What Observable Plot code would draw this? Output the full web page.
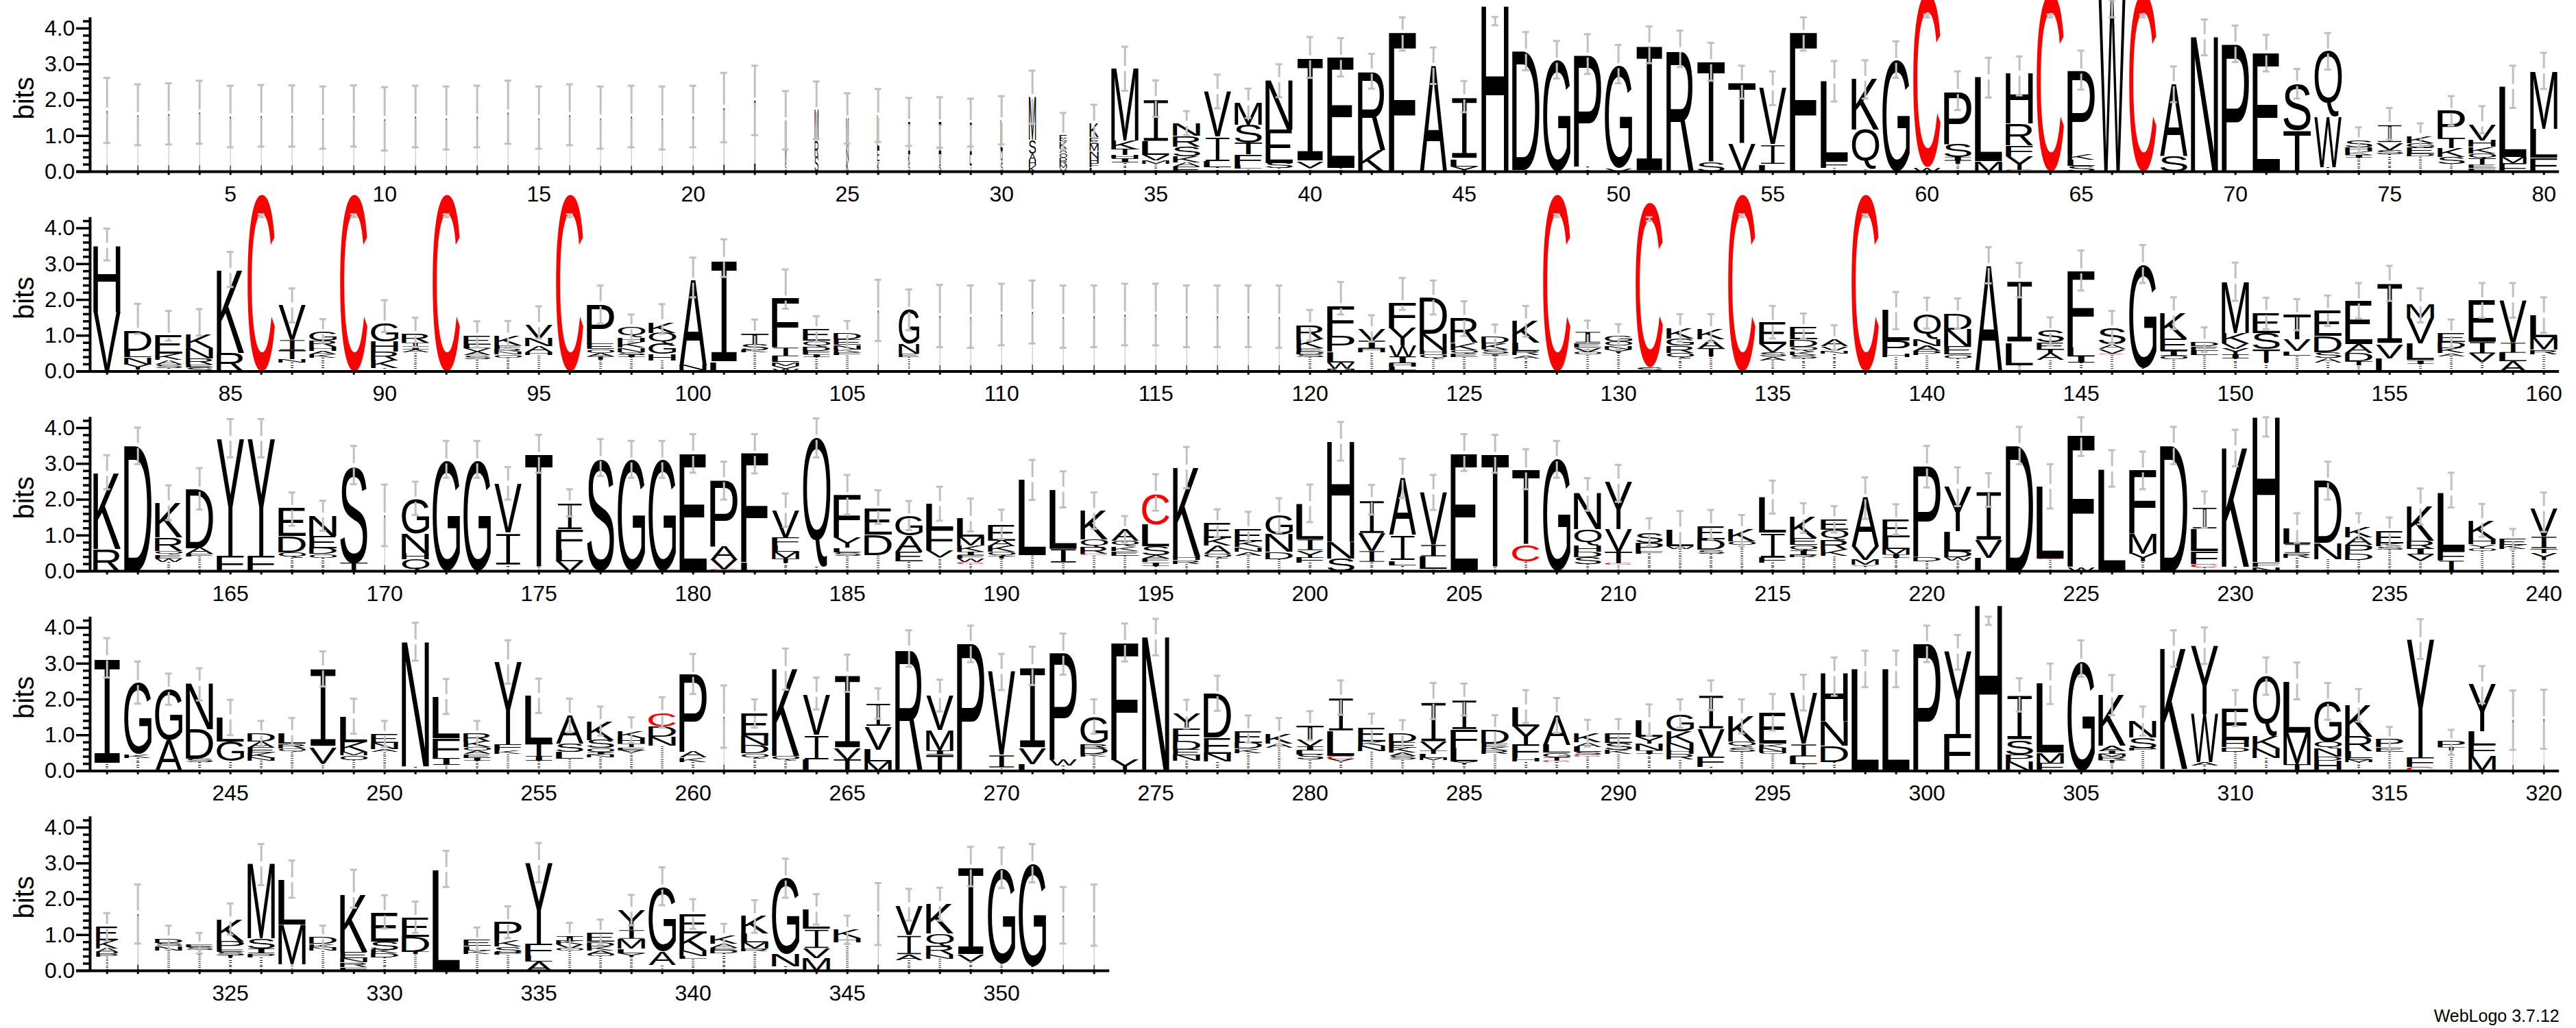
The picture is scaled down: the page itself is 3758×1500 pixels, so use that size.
<!DOCTYPE html>
<html><head><meta charset="utf-8">
<style>html,body{margin:0;padding:0;background:#fff;overflow:hidden}</style>
<script src="https://cdn.jsdelivr.net/npm/d3@7"></script>
<script src="https://cdn.jsdelivr.net/npm/@observablehq/plot@0.6"></script>
</head><body><div id="chart"></div>
<script>
// Each string lists one column's letters from top to bottom, with heights in bits.
// ":" stands for the residues too small to read, which the logo shows as specks.
const stacksRow1=["I1.71","I1.59","I1.62","I1.66","I1.54","I1.56","I1.56","I1.51","I1.56","I1.48","I1.54","I1.5","I1.54","I1.66","I1.51","I1.59","I1.51","I1.54","I1.5","I1.54","I1.79","I1.99","M1.2S.24","M.85R.45S.42","M.85N.32K.32","L.95E.32K.3","I.9K.25S.24","I.9V.28S.2","I.9L.27T.2","L.85Q.35S.24","M1.2S.38A.19H.16K.16","E.16K.2A.12O.13D.1R.1M.1V.1","K.38E.18M.2N.2H.14F.12L.12","M2K.24T.16H.1I.12:.25","I1.2L.38V.14M.1:.22","N.34R.3S.28K.16A.12E.14","V1.27I.68L.16:.12","M.6S.5T.32F.3L.1:.09","N1.38E.94S.14:.1","I2.9V.17:.1","E3.08:.1","R2.2K.6","F3.88","A2.96","I1.73L.2Y.15","H4.62","D3.3:.05","G3.1","P3.1:.15","G2.85V.1","I3.53","R3.4","T2.8S.26","T1.7V.78","V1.58I.55L.2","F3.88","L2.22F.2:.1","K1.42Q1.1:.08","G3.1","C4.85W.13","P1.45S.37I.1T.1:.21","L2.35M.29","H1.4R.6F.3Y.4C.04","C4.98","P2.32K.14L.18S.16","W5","C4.98","A2.02S.43","N3.76","P3.55","E3.31","S1.3T1.15","Q1.83W1.4:.13","S.2H.11K.1I.07:.4","I.5V.2S.13:.48","K.2G.13E.16D.08:.43","P.75T.3K.24S.2:.21","V.45H.19K.18Q.14T.17E.1F.1","L1.95M.18F.24","M1.6L.8F.4"];
const errorTopRow1=[2.62,2.44,2.47,2.54,2.4,2.42,2.41,2.38,2.41,2.36,2.4,2.38,2.4,2.54,2.38,2.44,2.38,2.4,2.38,2.4,2.76,2.96,2.25,2.52,2.19,2.31,2.06,2.08,2.04,2.11,2.82,1.64,1.87,3.49,2.55,1.69,2.71,2.32,3,3.76,3.73,3.29,4.31,3.47,2.53,4.32,3.9,3.65,3.84,3.54,4.06,3.94,3.6,2.96,2.8,4.31,3.09,3.11,3.64,4.39,2.8,3.18,3.22,4.39,3.38,4.8,4.39,2.94,4.25,4.08,3.82,2.87,3.87,1.24,1.78,1.35,2.11,1.83,2.96,3.32];
const errorLowRow1=[.8,.74,.76,.78,.68,.7,.7,.64,.7,.59,.68,.62,.68,.78,.64,.74,.64,.68,.62,.68,.82,1.02,.62,.91,.78,.83,.72,.67,.7,.76,1.34,.61,.82,2.26,1.53,1.02,1.77,1.5,2.08,2.62,2.66,2.32,3.38,2.45,1.66,4.09,2.83,2.6,2.73,2.47,3.03,2.92,2.54,2.04,1.86,3.38,1.96,2.04,2.62,4.31,1.72,2.07,2.13,4.31,2.29,4.31,4.31,1.94,3.25,3.06,2.8,2.04,2.85,.51,.89,.7,1.29,1.07,1.78,2.31];
const stacksRow2=["H1.84V1.67","D.57L.17N.2Y.15:.05","E.5K.17A.13S.1:.1","K.38N.29R.17E.08S.12","K2.3R.51","C4.94","V.97I.29T.24N.1:.25","G.25R.16H.11A.1K.1:.38","C4.94","G.5H.29R.24K.21:.1","R.24T.1I.1A.08:.53","C4.94","E.25L.1V.1A.1S.1:.35","K.27F.1R.08N.08O.08:.39","V.38N.22A.16H.08:.46","C4.94","P1.11E.14O.11A.1T.1:.32","Q.29H.13K.15N.13S.08I.06:.4","K.3Q.3G.29H.18:.31","A2.37N.14C.03","I2.87L.25","T.3S.17K.06:.53","F1.37I.25L.16M.1V.08W.08","E.32Q.16D.13F.1I.07:.4","D.18E.15N.13K.09F.07:.46","I1.7","G.95N.27E.1:.4","I1.55","I1.53","I1.59","I1.66","I1.53","I1.54","I1.59","I1.59","I1.54","I1.54","I1.54","I1.53","R.4K.24E.1D.07S.08:.4","F.83P.45L.3W.17M.08","V.32I.22H.11:.53","F.7Y.48W.32I.18H.1L.1C.03","D1N.46H.13Q.12:.35","R.7K.2Q.1E.1:.4","D.2K.16S.13I.05:.44","K.6L.22R.13A.08:.37","C4.94","I.3E.13V.13O.07:.47","G.15O.12N.1Y.1:.52","C4.6S.12","K.29G.2R.2Q.15:.37","K.29A.25T.22:.42","C4.94","E.6V.22S.13A.1:.31","E.35D.2Q.13K.1S.1:.36","A.2V.13N.08:.49","C4.94","L.85P.36H.1:.4","Q.7N.19A.14P.11:.46","D.45N.48E.22O.1:.37","A2.95","I1.73L.62:.18","S.32E.19T.1A.2:.32","F2.13L.24I.19:.24","S.45A.13V.13C.03:.47","G2.87:.1","K.7E.35I.13O.1:.34","D.13E.13L.11:.46","M1.43K.29V.15Y.16I.11:.37","E.56S.46T.37:.25","T.69V.32L.13:.44","E.7D.45S.16A.13:.25","E1.2A.25D.22T.12:.17","I1.7V.4L.36","M.38V.72L.46I.1:.22","E.24D.16K.15A.08:.43","E1.17I.32V.24:.26","V1.2I.27L.24A.28","L.6M.35C.03R.11:.47"];
const errorTopRow2=[3.99,1.89,1.69,1.74,3.34,4.39,2.32,1.46,4.39,1.99,1.5,4.39,1.4,1.41,1.82,4.39,2.4,1.59,1.88,3.18,3.69,1.45,2.85,1.54,1.41,2.56,2.29,2.42,2.4,2.45,2.54,2.4,2.4,2.45,2.45,2.4,2.4,2.4,2.4,1.72,2.5,1.57,2.61,2.54,1.96,1.31,1.83,4.39,1.42,1.32,4.31,1.6,1.6,4.39,1.83,1.62,1.29,4.39,2.22,2.06,2.04,3.47,3.03,1.51,3.38,1.69,3.53,2.07,1.23,3.04,2.06,2.02,2.12,2.47,2.95,2.32,1.45,2.47,2.47,2.07];
const errorLowRow2=[3.1,1.05,.86,1,2.36,4.31,1.37,.8,4.31,1.1,.68,4.31,.67,.64,.92,4.31,1.34,.83,1.05,2.07,2.64,.6,1.75,.83,.6,.85,1.15,.68,.66,.73,.78,.66,.68,.73,.73,.68,.68,.68,.66,.86,1.59,.83,1.72,1.59,.99,.6,.97,4.31,.6,.6,4.2,.83,.83,4.31,.92,.92,.59,4.31,1.18,1.2,1.2,2.46,2.07,.73,2.26,.78,2.47,1.18,.54,1.97,1.18,1.15,1.27,1.48,1.97,1.37,.67,1.5,1.5,1.08];
const stacksRow3=["K2.1R.62","D3.5","K.96R.38Q.1E.1W.1:.26","D1.64A.16F.06:.42","Y3.26F.44","Y3.26F.44","E.79D.45Q.16:.37","N.57E.35D.16O.1:.38","S2.72T.22","I1.56","G.96N.54H.16Q.34","G3.07","G3.07","V1.4I.89:.16","T3.15:.1","I.75F.55L.32V.28","S3.14","G3.1","G3.1","E3.28","P1.85A.38V.28C.04","F3.03L.25","V.76F.22L.16M.19T.12:.24","Q3.6:.13","F1.17Y.29L.13S.1:.43","E.73D.57:.45","G.54A.45E.27:.27","L.7F.6V.19:.39","L.5M.25K.16I.1F.1W.1C.05:.2","E.45A.16K.16Q.11T.08:.35","L2.1:.45","L1.67I.38:.23","K.8Q.22R.19C.04:.44","A.32Q.16K.13E.13:.44","C.86L.6S.25A.1F.1I.1:.15","K2.48H.11R.1:.21","E.41K.22A.22Q.13:.36","E.35K.16N.13A.1:.44","G.54N.48D.2:.34","L1I.3Y.2F.14:.24","H2.8N.46S.36","I.94V.5I.3:.25","A1.62I.7L.13:.16","V1.48I.32L.35:.06","E3.28","T3.15:.1","T2.1C.45:.27","G3.13","N1Q.45H.18D.14S.2:.2","Y1.32V.64T.32C.04:.18","S.29P.22F.08:.49","L.46W.08:.62","E.37D.29S.11:.49","K.35O.1:.73","L1.02I.67F.14:.24","K.59E.19Q.15I.13R.06:.39","E.3Q.27R.27K.18:.43","A1.37V.38M.14C.03:.15","E.48L.32M.16I.1:.37","P2.52D.13:.28","Y1.24L.57D.16W.1:.29","I1.39V.48L.38","D3.5","L2C.03:.33","F3.66W.13","L2.85","F1.76M.57Y.22:.27","D3.5","I.6L.62F.35C.1:.11","K3.3:.13","H4.04F.13N.13","L.45I.25R.13:.38","D1.74N.45:.34","K.3A.22P.25D.16:.32","E.35K.08S.08:.61","K.96R.22I.16V.17:.3","L1.61F.27I.3","K.51H.14Y.1O.08:.57","E.16K.11:.62","V.78I.32T.13Y.2:.31"];
const errorTopRow3=[3.24,4.01,2.4,2.88,4.25,4.25,2.2,1.97,3.5,2.42,2.5,3.64,3.64,2.91,3.81,2.29,3.69,3.64,3.64,3.83,3.06,3.83,2.17,4.27,2.69,2.26,1.96,2.36,2.03,1.72,3.11,2.79,2.2,1.54,2.71,3.47,1.73,1.66,2.04,2.42,4.17,2.41,3.14,2.69,3.83,3.81,3.41,3.64,2.6,2.97,1.48,1.68,1.71,1.57,2.53,1.9,1.82,2.62,1.87,3.5,2.9,2.74,4.03,2.99,4.3,3.38,3.34,4.03,2.23,3.95,4.3,1.62,3.06,1.62,1.5,2.31,2.75,1.88,1.18,2.2];
const errorLowRow3=[2.29,2.99,1.43,1.72,3.18,3.18,1.27,1.13,2.43,.7,1.57,2.61,2.61,2,2.75,1.53,2.66,2.61,2.61,2.75,2,2.73,1.24,3.18,1.58,1.32,1.15,1.41,1.11,.9,1.99,1.78,1.18,.8,1.69,2.32,.96,.83,1.08,1.37,3.09,1.58,2.04,1.71,2.8,2.75,2.29,2.61,1.69,1.94,.7,.65,.89,.7,1.61,1.07,1.08,1.46,1.02,2.34,1.82,1.8,2.99,1.75,3.22,2.36,2.29,2.99,1.21,2.93,3.76,.8,2,.89,.7,1.31,1.78,.96,.61,1.1];
const stacksRow4=["I2.95:.2","G2K.1:.36","G1.41A.86","N1.27D.83S.1:.24","L.67G.56:.27","D.22A.17E.14K.15N.09:.28","L.3R.13Q.1:.53","I2.2V.45:.22","L.72K.27M.1O.13:.31","E.25N.18A.08:.53","N3.47:.13","L1.15F.57I.18:.17","R.22K.16O.1A.1E.1I.08:.29","Y2.3F.17K.1:.47","L1.31T.38I.13:.28","A.78S.24L.19:.34","K.51S.22Q.13I.06N.06:.39","K.19H.16T.1E.08V.07:.51","C.38D.29N.25:.7","P2.15A.16K.13:.25","I1.52","E.6N.29D.21Q.13:.36","K2.43Q.12:.3","V1.15I.67L.31","I2.07V.32T.31","I.65V.64L.34M.26","R3.42","V.96M.57I.12T.45","P3.55","V2.32I.36:.09","I2.27V.45L.19","P2.96W.16:.16","G.73R.13D.16K.08:.4","F3.27Y.31","N3.74","Y.41F.34D.24E.16N.16:.28","D1.22E.45N.22:.26","E.32D.16K.13:.5","K.27A.11:.66","T.39V.19I.11L.11S.14:.32","I.94L.68C.1V.06:.27","E.38K.13N.15:.55","D.24E.15K.14A.1S.1:.32","I1.13V.24T.1L.11M.06:.3","I.84F.51L.38Y.06:.2","D.38E.1K.1R.1:.47","L.54Y.5F.38H.1:.26","A.83L.22G.13T.1C.04:.24","K.25A.13L.14S.08C.04:.41","E.27S.19K.13:.47","L.46Y.19N.19I.1:.48","G.48K.32N.19H.13R.15:.32","I.96V.75F.29:.12","K.7Q.16S.13:.54","E.86K.1N.13O.06:.47","V1.42I.35L.21:.2","H1.34N.67D.45:.25","L2.85","L2.85","P3.55","Y2.32F1.02","H4.62","I1.27S.41P.19N.26","L1.94M.29F.22","G3.06","K1.42A.14I.08M.08R.09T.08:.23","N.46S.31P.06:.57","K3.36:.06","Y1.91W1.34A.1:.15","E.88H.19D.13:.54","Q1.66K.34N.27:.37","L1.42M.89T.19","G1.13Q.19N.21D.13H.28","K.87R.41L.19E.06M.06:.24","P.22E.13:.54","Y3.28F.26C.12","P.16T.1:.57","Y1.31L.38F.31M.42","I1.42","I1.45"];
const errorTopRow4=[3.71,3.06,2.72,2.87,1.99,1.4,1.48,3.34,2.02,1.4,4.14,2.57,1.4,3.65,2.58,2.02,1.8,1.5,2.06,3.27,2.39,2,3.42,2.61,3.25,2.31,3.93,2.55,4.06,3.27,3.47,3.84,2,4.12,4.25,1.99,2.66,1.55,1.48,1.67,2.53,1.6,1.42,2.46,2.44,1.56,2.26,2.04,1.43,1.45,1.86,2,2.53,2,2.15,2.69,3.17,3.36,3.36,4.06,3.8,4.31,2.59,3,3.65,2.68,1.8,3.93,4.01,2.26,3.17,3.03,2.46,2.29,1.23,4.24,1.15,2.93,2.25,2.27];
const errorLowRow4=[2.61,1.88,1.85,1.97,1,.7,.73,2.36,1.04,.67,3.08,1.59,.67,2.44,1.62,1.08,.99,.78,1.21,2.15,.65,1.21,2.27,1.72,2.21,1.46,2.91,1.66,3.04,2.26,2.4,2.69,1.04,3.06,3.23,1.19,1.68,.8,.75,.86,1.57,.8,.67,1.45,1.55,.73,1.34,1.06,.68,.67,.99,1.21,1.7,1.05,1.13,1.69,2.1,2.34,2.34,3.04,2.83,4.08,1.66,1.87,2.63,1.56,.99,2.91,2.99,1.25,2.13,2,1.43,1.38,.57,3.13,.45,1.89,.59,.62];
const stacksRow5=["E.38K.22A.11D.06P.06:.4","I1.6","D.13S.08N.13:.57","E.08S.08:.58","K.62P.21E.08S.1T.06:.37","M2.08S.29I.13P.1:.38","L1.24M1.11:.18","D.19K.1N.09:.56","K1.59E.16N.13R.13F.1","E.8S.22K.11D.11:.37","E.54D.41T.06:.47","L2.82","E.16L.13K.1:.46","P.51K.18S.16P.06:.45","Y2.26F.33L.16A.26","I.13K.11V.11O.06:.56","E.25D.13K.11A.1O.06:.41","Y.57I.25M.27L.13Y.1:.39","G1.8A.36:.17","E.53K.48N.15L.08:.33","K.21A.11E.08D.09:.48","K.48L.24M.18R.08:.54","G2.11N.34:.13","L.54I.54V.27M.36","K.24H.11:.8","I1.58","V.84I.54A.15:.3","K.83Q.35R.24N.11:.34","I2.45V.19:.25","G2.66:.21","G2.85:.13","I1.55","I1.55"];
const errorTopRow5=[1.61,2.41,1.26,1.06,1.88,3.54,3.08,1.26,2.82,2.11,1.93,3.35,1.21,1.8,3.57,1.34,1.43,2.12,2.89,2,1.31,1.97,3.13,2.14,1.54,2.45,2.29,2.32,3.46,3.44,3.54,2.34,2.41];
const errorLowRow5=[.83,.76,.59,.48,1.01,2.39,2.04,.62,1.76,1.18,1.06,2.34,.56,.91,2.47,.62,.72,1.27,1.83,1.17,.62,1.06,2.04,1.29,.75,.72,1.4,1.4,2.36,2.31,2.47,.76,.7];
const narrowPositions=[1,2,3,4,5,6,7,8,9,10,11,12,13,14,15,16,17,18,19,20,21,22,23,24,25,26,27,28,29,30,31,32,33,106,107,108,109,110,111,112,113,114,115,116,117,118,119,170,261,319,320,321,322,346,352,353];
const narrowWidths=[.03,.03,.03,.03,.03,.03,.03,.03,.03,.03,.03,.03,.03,.03,.03,.03,.03,.03,.03,.03,.04,.05,.06,.14,.09,.08,.07,.09,.07,.08,.26,.27,.33,.03,.75,.03,.03,.03,.03,.03,.03,.03,.03,.03,.03,.03,.03,.03,.03,.03,.03,.8,.04,.04,.03,.03];
const redResidues=["C"];
const yMajorTicks=[0,1,2,3,4];
const yMinorTicks=[.2,.4,.6,.8,1.2,1.4,1.6,1.8,2.2,2.4,2.6,2.8,3.2,3.4,3.6,3.8,4.2];
const footer="WebLogo 3.7.12";

const stackRows=[stacksRow1,stacksRow2,stacksRow3,stacksRow4,stacksRow5];
const topRows=[errorTopRow1,errorTopRow2,errorTopRow3,errorTopRow4,errorTopRow5];
const lowRows=[errorLowRow1,errorLowRow2,errorLowRow3,errorLowRow4,errorLowRow5];
const rows=[0,1,2,3,4];
const letters=[],errors=[],columns=[];
const narrow=new Map(narrowPositions.map((p,i)=>[p,narrowWidths[i]]));
stackRows.forEach((st,row)=>st.forEach((s,k)=>{
  const pos=row*80+k+1, col=k+1;
  const parts=[...s.matchAll(/([A-Z:])([\d.]+)/g)].map(m=>({letter:m[1],h:+m[2]}));
  let y=parts.reduce((a,b)=>a+b.h,0); const total=y;
  const frac=narrow.get(pos)??1;
  for(const p of parts){
    if(p.letter===":"){
      const n=Math.max(1,Math.round(p.h/.11));
      for(let j=0;j<n;j++){const h=p.h/n;letters.push({row,col,pos,letter:":",y0:y-h*.8,y1:y-h*.1,frac:frac*.1});y-=h;}
    } else {letters.push({row,col,pos,letter:p.letter,y0:y-p.h,y1:y,frac});y-=p.h;}
  }
  errors.push({row,col,top:topRows[row][k],low:lowRows[row][k],c:total});
  columns.push({row,col,pos});
}));
const rowLen=r=>stackRows[r].length;
const GAP=.07, GRAY="#c0c0c0", LETTER_W=40, AX="Liberation Sans";
const measure=document.createElement("canvas").getContext("2d");
const inkCache={};
function ink(ch){
  if(!inkCache[ch]){
    measure.font=`100px "${ch==="I"?"Liberation Mono":AX}"`;
    const m=measure.measureText(ch);
    inkCache[ch]={l:m.actualBoundingBoxLeft,r:m.actualBoundingBoxRight,a:m.actualBoundingBoxAscent,d:m.actualBoundingBoxDescent};
  }
  return inkCache[ch];
}
function stretch(index,scales,values,dims,ctx,next){
  const g=next(index,scales,values,dims,ctx);
  g.querySelectorAll("text").forEach(t=>{
    const d=letters[t.__data__];
    if(!d)return;
    const m=ink(d.letter), W=LETTER_W*d.frac;
    const yb=scales.y(d.y0), yt=scales.y(d.y1), H=yb-yt;
    const sx=W/(m.l+m.r), sy=H/(m.a+m.d);
    t.removeAttribute("y");t.removeAttribute("dy");
    t.style.fontFamily=d.letter==="I"?'"Liberation Mono"':`"${AX}"`;
    if(d.letter==="I"&&d.frac>.5&&H>12){
      // the logo's I has a much thinner stem than any installed serifed I
      t.setAttribute("stroke","#fff");
      t.setAttribute("stroke-width",H>25?3:1.5);
      t.setAttribute("vector-effect","non-scaling-stroke");
      t.style.vectorEffect="non-scaling-stroke";
    }
    t.setAttribute("transform",`translate(${scales.x(d.col)-W/2+m.l*sx},${yb-m.d*sy}) scale(${sx},${sy})`);
  });
  return g;
}
const xAxisCol=.45, tickStart=.007, minorStart=.23;
const yTickRows=rows.flatMap(r=>yMajorTicks.map(v=>({r,v})));
const yMinorRows=rows.flatMap(r=>yMinorTicks.map(v=>({r,v})));
const xLabels=columns.filter(c=>c.pos%5===0);
const hasGap=e=>e.c>e.low+GAP&&e.c<e.top-GAP;
const chart=Plot.plot({
  width:3758,height:1500,marginTop:0,marginBottom:42.5,marginLeft:0,marginRight:0,
  style:{background:"#fff",fontFamily:AX,overflow:"visible"},
  fy:{domain:rows,range:[0,1457.5],padding:0,round:false,axis:null},
  x:{type:"linear",domain:[.5,80.5],range:[133.2,3733.2],axis:null},
  y:{type:"linear",domain:[0,4],range:[250,41],axis:null},
  marks:[
    Plot.text(letters,{x:"col",y:"y0",fy:"row",text:"letter",fontSize:100,textAnchor:"start",
      fill:d=>redResidues.includes(d.letter)?"#ff0000":"#000",render:stretch}),
    Plot.ruleX(errors.filter(hasGap),{x:"col",fy:"row",y1:"low",y2:d=>d.c-GAP,stroke:GRAY,strokeWidth:3}),
    Plot.ruleX(errors.filter(hasGap),{x:"col",fy:"row",y1:d=>d.c+GAP,y2:"top",stroke:GRAY,strokeWidth:3}),
    Plot.ruleX(errors.filter(e=>!hasGap(e)),{x:"col",fy:"row",y1:"low",y2:"top",stroke:GRAY,strokeWidth:3}),
    Plot.ruleY(errors,{y:"top",fy:"row",x1:d=>d.col-.11,x2:d=>d.col+.11,stroke:GRAY,strokeWidth:3}),
    Plot.ruleY(errors,{y:"low",fy:"row",x1:d=>d.col-.11,x2:d=>d.col+.11,stroke:GRAY,strokeWidth:3}),
    Plot.ruleY(rows.map(r=>({r})),{y:()=>0,fy:"r",x1:()=>tickStart,x2:d=>rowLen(d.r)+.5,stroke:"#000",strokeWidth:4}),
    Plot.ruleX(columns,{x:"col",fy:"row",y1:()=>0,y2:()=>-.1,stroke:"#000",strokeWidth:3}),
    Plot.ruleX(rows.map(r=>({r})),{x:()=>xAxisCol,fy:"r",y1:()=>0,y2:()=>4.3,stroke:"#000",strokeWidth:4}),
    Plot.ruleY(yTickRows,{y:"v",fy:"r",x1:()=>tickStart,x2:()=>xAxisCol,stroke:"#000",strokeWidth:3.5}),
    Plot.ruleY(yMinorRows,{y:"v",fy:"r",x1:()=>minorStart,x2:()=>xAxisCol,stroke:"#000",strokeWidth:3.5}),
    Plot.text(yTickRows,{x:()=>-.04,y:"v",fy:"r",text:d=>d.v.toFixed(1),textAnchor:"end",fontSize:32,fill:"#000"}),
    Plot.text(xLabels,{x:"col",y:()=>-.63,fy:"row",text:d=>String(d.pos),fontSize:32,fill:"#000"}),
    Plot.text(rows.map(r=>({r})),{x:()=>-1.66,y:()=>2.05,fy:"r",text:()=>"bits",rotate:-90,fontSize:40,fill:"#000"}),
    Plot.text([{r:4}],{x:()=>80.5,y:()=>-1.28,fy:"r",text:()=>footer,textAnchor:"end",fontSize:25,fill:"#000"})
  ]
});
document.getElementById("chart").appendChild(chart);
</script></body></html>
